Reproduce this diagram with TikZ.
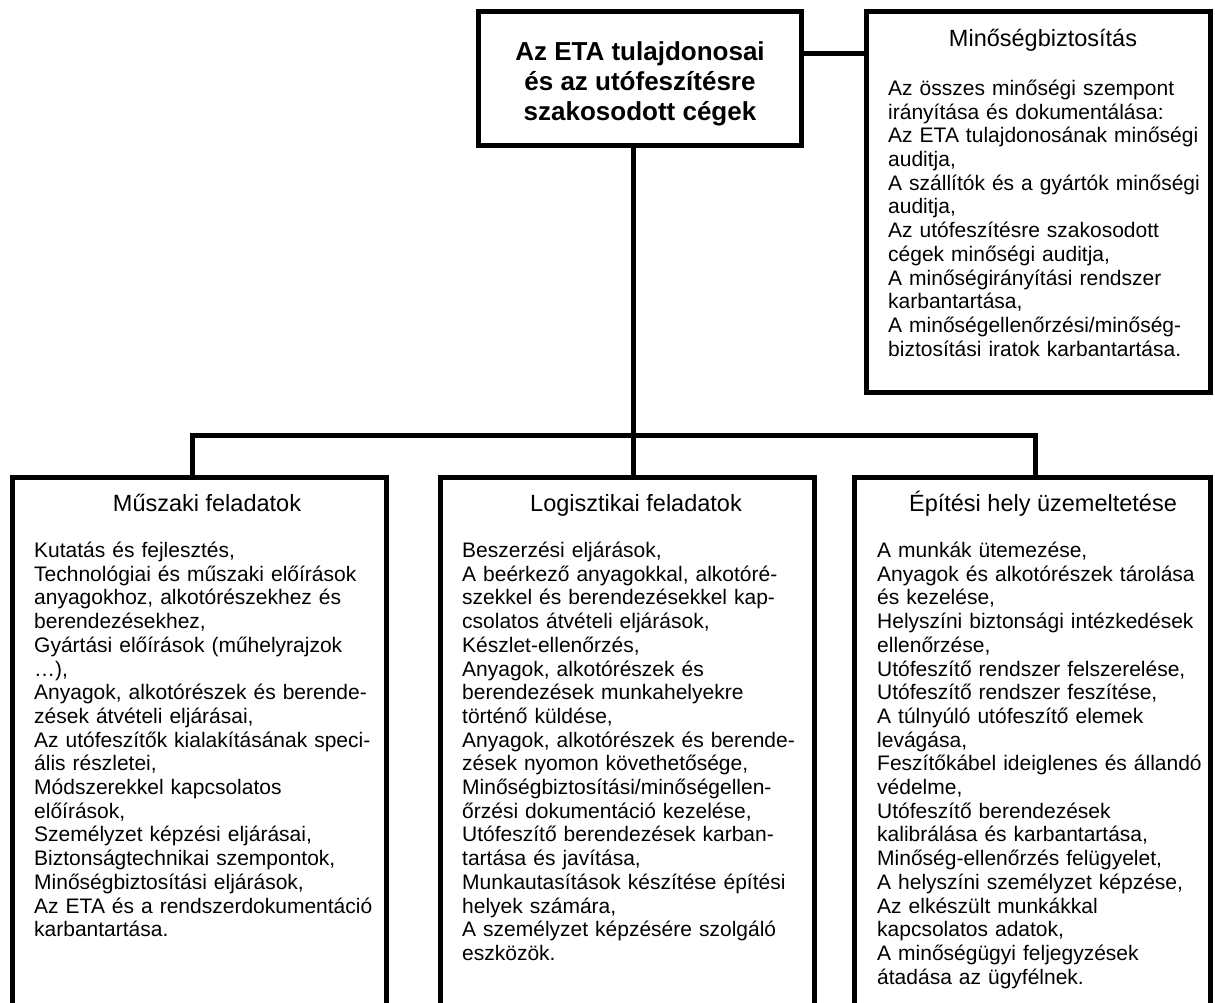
\documentclass[tikz,border=0pt]{standalone}
\usepackage{fontspec}
\setmainfont{Liberation Sans}
\usetikzlibrary{positioning}

\tikzset{
  unitbox/.style={draw, line width=5pt, inner sep=0pt},
  wire/.style={line width=5pt},
  titletext/.style={font=\bfseries\fontsize{26}{30}\selectfont, align=center, inner sep=0pt},
  headtext/.style={font=\fontsize{23.5}{26}\selectfont, inner sep=0pt, anchor=base},
  bodytext/.style={font=\fontsize{21}{23.7}\selectfont, align=left, text width=400pt, inner sep=0pt, anchor=base west}
}

\begin{document}
\begin{tikzpicture}[x=1pt, y=-1pt]
        \path[use as bounding box, clip] (0,0) rectangle (1215,1003);

        % Boxes
        \node[unitbox, minimum width=323.5, minimum height=134] (own) at (639.75,79) {};
        \node[unitbox, minimum width=343.5, minimum height=380] (qa) at (1038.25,202) {};
        \node[unitbox, minimum width=374, minimum height=528] (tech) at (199,741.5) {};
        \node[unitbox, minimum width=374, minimum height=528] (logi) at (627,741.5) {};
        \node[unitbox, minimum width=356, minimum height=528] (site) at (1032,741.5) {};

        % Texts
        \node[titletext] (ownlbl) at (640,84) {Az ETA tulajdonosai\\és az utófeszítésre\\szakosodott cégek};

        \node[headtext] (qahead) at (1043,46.5) {Minőségbiztosítás};
        \node[bodytext] (qabody) at (888,95.5) {Az összes minőségi szempont\\
          irányítása és dokumentálása:\\
          Az ETA tulajdonosának minőségi\\
          auditja,\\
          A szállítók és a gyártók minőségi\\
          auditja,\\
          Az utófeszítésre szakosodott\\
          cégek minőségi auditja,\\
          A minőségirányítási rendszer\\
          karbantartása,\\
          A minőségellenőrzési/minőség-\\
          biztosítási iratok karbantartása.};

        \node[headtext] (techhead) at (207,511) {Műszaki feladatok};
        \node[bodytext] (techbody) at (34,557.5) {Kutatás és fejlesztés,\\
          Technológiai és műszaki előírások\\
          anyagokhoz, alkotórészekhez és\\
          berendezésekhez,\\
          Gyártási előírások (műhelyrajzok\\
          …),\\
          Anyagok, alkotórészek és berende-\\
          zések átvételi eljárásai,\\
          Az utófeszítők kialakításának speci-\\
          ális részletei,\\
          Módszerekkel kapcsolatos\\
          előírások,\\
          Személyzet képzési eljárásai,\\
          Biztonságtechnikai szempontok,\\
          Minőségbiztosítási eljárások,\\
          Az ETA és a rendszerdokumentáció\\
          karbantartása.};

        \node[headtext] (logihead) at (636,511) {Logisztikai feladatok};
        \node[bodytext] (logibody) at (462,557.5) {Beszerzési eljárások,\\
          A beérkező anyagokkal, alkotóré-\\
          szekkel és berendezésekkel kap-\\
          csolatos átvételi eljárások,\\
          Készlet-ellenőrzés,\\
          Anyagok, alkotórészek és\\
          berendezések munkahelyekre\\
          történő küldése,\\
          Anyagok, alkotórészek és berende-\\
          zések nyomon követhetősége,\\
          Minőségbiztosítási/minőségellen-\\
          őrzési dokumentáció kezelése,\\
          Utófeszítő berendezések karban-\\
          tartása és javítása,\\
          Munkautasítások készítése építési\\
          helyek számára,\\
          A személyzet képzésére szolgáló\\
          eszközök.};

        \node[headtext] (sitehead) at (1043,511) {Építési hely üzemeltetése};
        \node[bodytext] (sitebody) at (877,557.5) {A munkák ütemezése,\\
          Anyagok és alkotórészek tárolása\\
          és kezelése,\\
          Helyszíni biztonsági intézkedések\\
          ellenőrzése,\\
          Utófeszítő rendszer felszerelése,\\
          Utófeszítő rendszer feszítése,\\
          A túlnyúló utófeszítő elemek\\
          levágása,\\
          Feszítőkábel ideiglenes és állandó\\
          védelme,\\
          Utófeszítő berendezések\\
          kalibrálása és karbantartása,\\
          Minőség-ellenőrzés felügyelet,\\
          A helyszíni személyzet képzése,\\
          Az elkészült munkákkal\\
          kapcsolatos adatok,\\
          A minőségügyi feljegyzések\\
          átadása az ügyfélnek.};

        % Lines
        \coordinate (qalink) at (834,54);
        \coordinate (bus) at (633,435);
        \coordinate (busL) at (192,435);
        \coordinate (busR) at (1035,435);
        \draw[wire] (own.east |- qalink) -- (qa.west |- qalink);
        \draw[wire] (own.south -| bus) -- (bus |- logi.north);
        \draw[wire] (busL |- tech.north) -- (busL) -- (busR) -- (busR |- site.north);
    \end{tikzpicture}
\end{document}
